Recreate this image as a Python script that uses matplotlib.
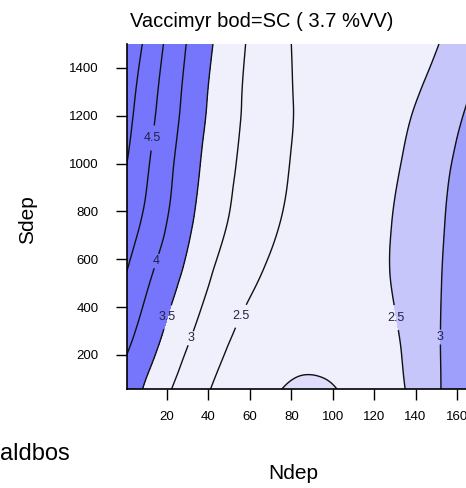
import numpy as np
import matplotlib
matplotlib.use("Agg")
import matplotlib.pyplot as plt
import matplotlib.tri as mtri

plt.rcParams["font.family"] = ["Liberation Sans", "DejaVu Sans"]

# Response surface sampled on a coarse Ndep x Sdep grid
ndep = [0, 15, 30, 45, 60, 75, 90, 105, 120, 135, 150, 165, 180]
sdep = [57, 250, 500, 750, 1000, 1250, 1500]
cover = [
    [3.82, 3.244, 2.768, 2.42, 2.17, 2.003, 1.955, 2.025, 2.23, 2.50, 2.927, 3.45, 4.09],
    [4.10, 3.55, 3.02, 2.609, 2.316, 2.15, 2.10, 2.14, 2.278, 2.552, 2.940, 3.441, 4.055],
    [4.46, 3.871, 3.344, 2.87, 2.555, 2.353, 2.264, 2.278, 2.394, 2.614, 2.936, 3.362, 3.890],
    [4.75, 4.193, 3.592, 3.107, 2.75, 2.493, 2.353, 2.324, 2.405, 2.597, 2.899, 3.311, 3.833],
    [5.03, 4.348, 3.733, 3.210, 2.86, 2.566, 2.380, 2.312, 2.363, 2.531, 2.818, 3.223, 3.746],
    [5.205, 4.50, 3.855, 3.306, 2.905, 2.595, 2.392, 2.297, 2.312, 2.435, 2.667, 3.008, 3.458],
    [5.41, 4.658, 3.969, 3.402, 2.945, 2.595, 2.347, 2.216, 2.194, 2.281, 2.478, 2.784, 3.200],
]

line_levels = [2.0, 2.5, 3.0, 3.5, 4.0, 4.5, 5.0]
label_pos = [(13.2, 1107), (13.2, 597), (19.0, 362), (31.1, 271),
             (57.6, 354), (129.1, 354), (151.8, 275)]

xticks = [20, 40, 60, 80, 100, 120, 140, 160, 180]
yticks = [200, 400, 600, 800, 1000, 1200, 1400]

c_light = "#f0f0fd"
c_bump = "#dedefb"
c_mid = "#c6c6fb"
c_darker = "#9e9efb"
c_dark = "#7676fd"

# Smooth surface from the grid (triangulate in grid units)
NN, SS = np.meshgrid(np.array(ndep, float), np.array(sdep, float))
ZZ = np.array(cover, float)
tri = mtri.Triangulation((NN / 15.0).ravel(), (SS / 250.0).ravel())
interp = mtri.CubicTriInterpolator(tri, ZZ.ravel(), kind="min_E")

nf = np.linspace(0.5, 180, 420)
sf = np.linspace(57, 1500, 420)
Nf, Sf = np.meshgrid(nf, sf)
Zf = interp(Nf / 15.0, Sf / 250.0)
Zf = np.ma.filled(Zf, np.nan)

fig = plt.figure(figsize=(4.66, 4.88), dpi=100)
ax = fig.add_axes([126.6 / 466, 0.20246, (498.4 - 126.6) / 466, 0.70738])
ax.set_facecolor(c_light)

ax.contourf(Nf, Sf, np.ma.masked_where(Nf > 100, Zf), levels=[3.5, 99], colors=[c_dark])
ax.contourf(Nf, Sf, np.ma.masked_where(Nf < 100, Zf), levels=[2.5, 3.0, 99],
            colors=[c_mid, c_darker])
ax.contourf(Nf, Sf, Zf, levels=[0, 2.0], colors=[c_bump])
cs = ax.contour(Nf, Sf, Zf, levels=line_levels, colors="#111111", linewidths=1.0)
texts = ax.clabel(cs, manual=label_pos, fmt="%g",
                  fontsize=9, inline=True, inline_spacing=4, colors="#222244")
for t in texts:
    t.set_rotation(0)

ax.set_xlim(0.5, 180)
ax.set_ylim(57, 1500)
ax.set_xticks(xticks)
ax.set_yticks(yticks)
ax.spines["top"].set_visible(False)
ax.spines["right"].set_visible(False)
for sp in ("left", "bottom"):
    ax.spines[sp].set_linewidth(1.2)
ax.tick_params(axis="both", direction="out", length=8, width=1.0, labelsize=9.5)
ax.tick_params(axis="x", pad=8)
ax.tick_params(axis="y", pad=12)

fig.text(261.5 / 466, 1 - 26.7 / 488, "Vaccimyr bod=SC ( 3.7 %VV)",
         ha="center", va="baseline", fontsize=14.5)
fig.text(293 / 466, 1 - 479 / 488, "Ndep", ha="center", va="baseline", fontsize=15)
fig.text(28 / 466, 1 - 220 / 488, "Sdep", ha="center", va="center",
         rotation=90, fontsize=15)
fig.text(0.0, 1 - 460 / 488, "aldbos", ha="left", va="baseline", fontsize=17)

fig.savefig("out.png", dpi=100)
